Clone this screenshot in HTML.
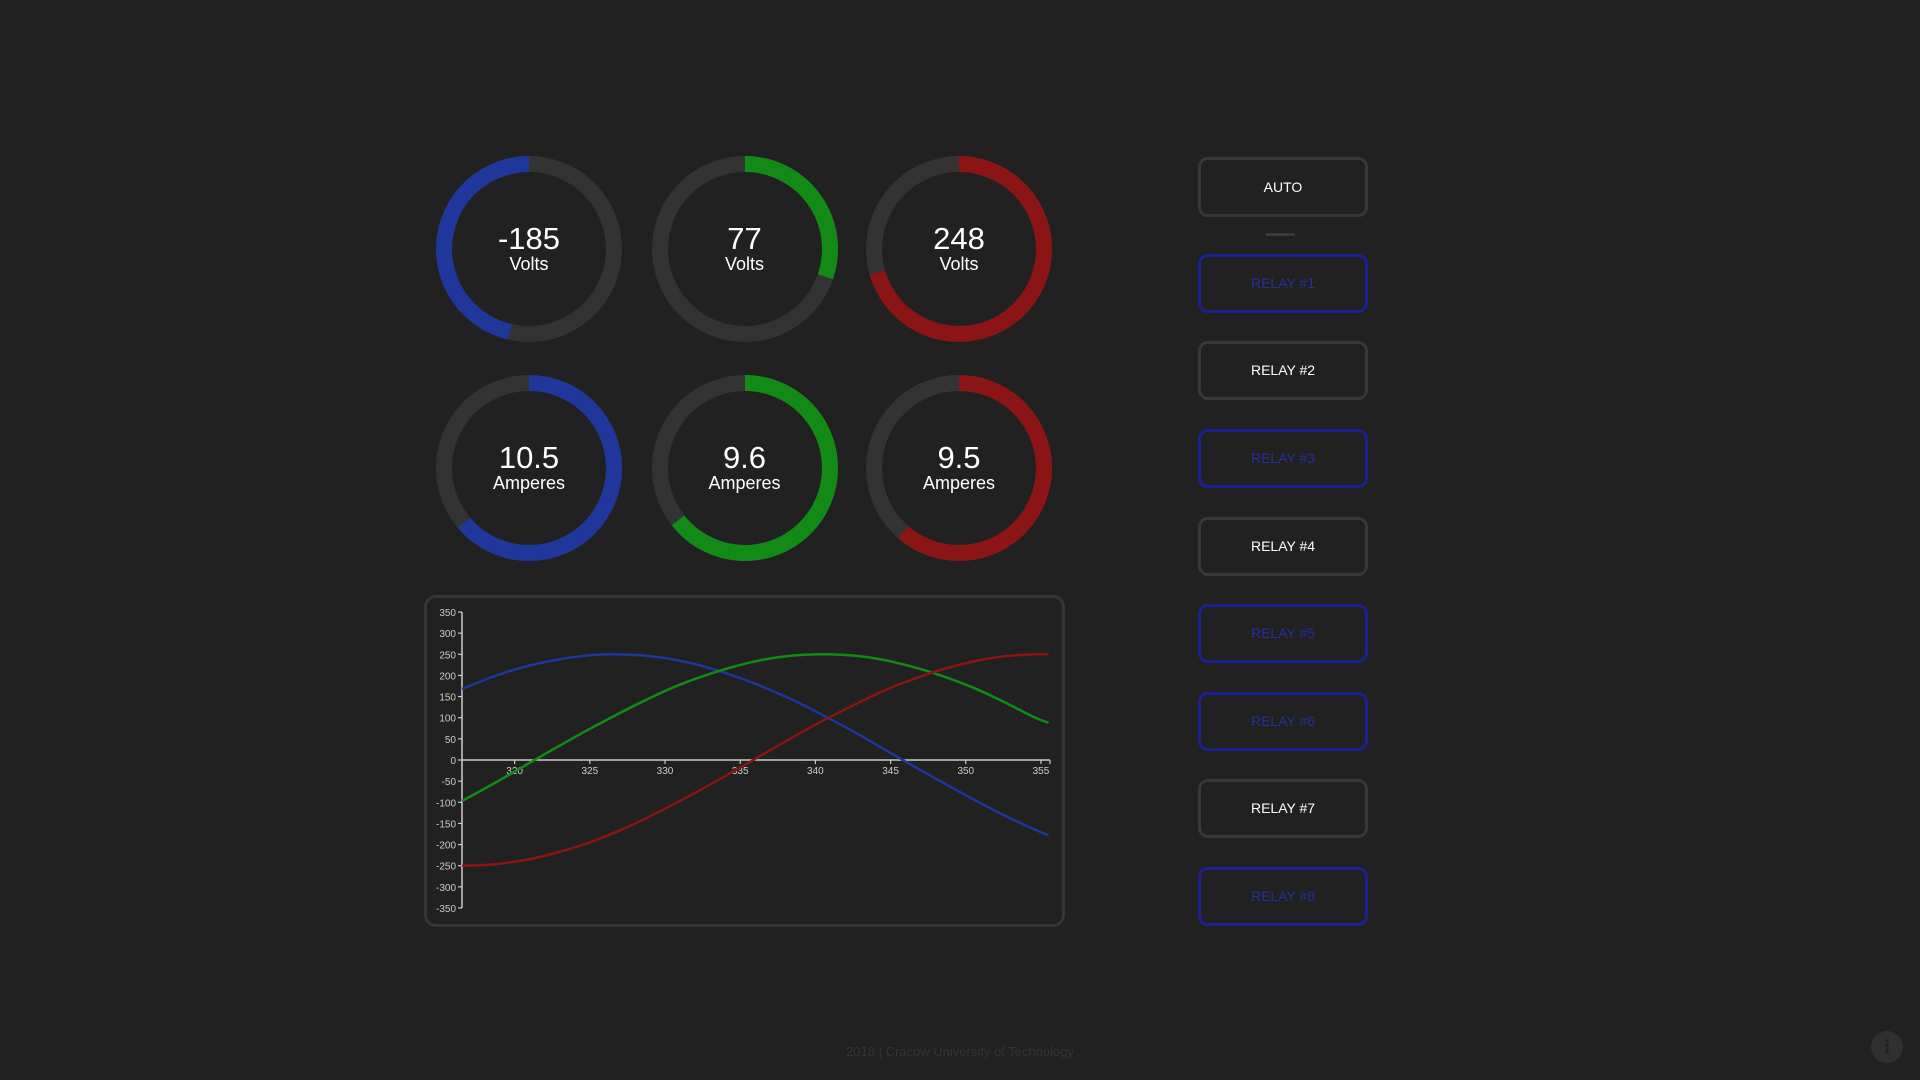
<!DOCTYPE html>
<html><head><meta charset="utf-8">
<style>
html,body{margin:0;padding:0;background:#212121;width:1920px;height:1080px;overflow:hidden;font-family:"Liberation Sans",sans-serif;color:#fff}
.gauge{position:absolute;width:190px;height:190px}
.gauge .val{position:absolute;left:0;width:190px;top:68px;text-align:center;font-size:31px;line-height:34px}
.gauge .unit{position:absolute;left:0;width:190px;top:100px;text-align:center;font-size:18px;line-height:20px}
.btn{position:absolute;left:1198px;width:164px;height:53px;border:3px solid #383838;border-radius:10px;box-sizing:content-box;text-align:center;line-height:53px;font-size:14px;color:#fff}
.btn.blue{border-color:#1c2190;color:#262f9c}
#panel{position:absolute;left:424px;top:595px;width:635px;height:326px;border:3px solid #363636;border-radius:12px}
</style></head><body>
<div id="gauges"></div>
<div id="panel"></div>
<svg id="chart" style="position:absolute;left:0;top:0" width="1920" height="1080"></svg>

<div class="btn" style="top:157px;height:54px;line-height:54px">AUTO</div>
<div style="position:absolute;left:1266px;top:233px;width:29px;height:3px;background:#3a3a3a"></div>
<div class="btn blue" style="top:254px">RELAY #1</div>
<div class="btn" style="top:341px">RELAY #2</div>
<div class="btn blue" style="top:429px">RELAY #3</div>
<div class="btn" style="top:517px">RELAY #4</div>
<div class="btn blue" style="top:604px">RELAY #5</div>
<div class="btn blue" style="top:692px">RELAY #6</div>
<div class="btn" style="top:779px">RELAY #7</div>
<div class="btn blue" style="top:867px">RELAY #8</div>

<div style="position:absolute;left:0;width:1920px;top:1044px;text-align:center;font-size:13px;color:#343434">2018 | Cracow University of Technology</div>
<div style="position:absolute;left:1871px;top:1031px;width:32px;height:32px;border-radius:50%;background:#303030;color:#222;text-align:center;font:bold 20px/32px 'Liberation Serif',serif">i</div>

<script>
// Gauges
const gaugeValues = ["-185","77","248","10.5","9.6","9.5"];
const gaugeUnits = ["Volts","Volts","Volts","Amperes","Amperes","Amperes"];
const gaugeAngles = [-167,109,254,230,232,221];
const gaugeColors = ["#1f369a","#118a16","#8b1414","#1f369a","#118a16","#8b1414"];
const gcx=[529,744.5,959], gcy=[248.5,468];
const gHost=document.getElementById('gauges');
gaugeValues.forEach((v,i)=>{
  const cx=gcx[i%3], cy=gcy[Math.floor(i/3)];
  const d=document.createElement('div');
  d.className='gauge';
  
  
  d.style.left=(cx-95)+'px'; d.style.top=(cy-95)+'px';
  const r=85, a=gaugeAngles[i]*Math.PI/180;
  const ex=95+r*Math.sin(a), ey=95-r*Math.cos(a);
  const large=Math.abs(gaugeAngles[i])>180?1:0, sweep=gaugeAngles[i]>0?1:0;
  d.innerHTML='<svg width="190" height="190" style="position:absolute;left:0;top:0"><circle cx="95" cy="95" r="85" fill="none" stroke="#333" stroke-width="16"/><path d="M95 10 A85 85 0 '+large+' '+sweep+' '+ex.toFixed(2)+' '+ey.toFixed(2)+'" fill="none" stroke="'+gaugeColors[i]+'" stroke-width="16"/></svg><div class="val">'+v+'</div><div class="unit">'+gaugeUnits[i]+'</div>';
  gHost.appendChild(d);
});

// Chart data
const xValues = [316.5,318.5,320.5,322.5,324.5,326.5,328.5,330.5,332.5,334.5,336.5,338.5,340.5,342.5,344.5,346.5,348.5,350.5,352.5,354.5,355.5];
const blueSeries = [168,196,219,235,246,250,247,238,222,200,173,142,106,68,27,-14,-54,-93,-130,-163,-178];
const greenSeries = [-97,-58,-17,24,64,102,138,171,198,220,237,247,250,247,237,220,198,171,138,102,88];
const redSeries = [-250,-247,-238,-222,-201,-174,-142,-106,-68,-28,13,54,93,129,163,191,215,233,245,250,250];
const yTicks = [350,300,250,200,150,100,50,0,-50,-100,-150,-200,-250,-300,-350];
const xTicks = [320,325,330,335,340,345,350,355];

const X0=462, X1=1050, xmin=316.5, xmax=355.6;
const sx=v=>X0+(v-xmin)/(xmax-xmin)*(X1-X0);
const sy=v=>760-v*(148/350)*(1);
const svg=document.getElementById('chart');
const NS='http://www.w3.org/2000/svg';
function mk(tag,attrs){const e=document.createElementNS(NS,tag);for(const k in attrs)e.setAttribute(k,attrs[k]);svg.appendChild(e);return e;}

let e=mk('line',{x1:X0,y1:sy(350),x2:X0,y2:sy(-350),stroke:'#ccc','stroke-width':1.5});


e=mk('line',{x1:X0,y1:sy(0),x2:X1,y2:sy(0),stroke:'#ccc','stroke-width':1.5});


yTicks.forEach(t=>{
  mk('line',{x1:X0-4,y1:sy(t),x2:X0,y2:sy(t),stroke:'#ccc','stroke-width':1.2});
  const tx=mk('text',{x:X0-6,y:sy(t)+4,'text-anchor':'end','font-size':10,fill:'#ccc','font-family':'Liberation Sans, sans-serif'});
  tx.textContent=t;
  
  
});
xTicks.forEach(t=>{
  mk('line',{x1:sx(t),y1:sy(0),x2:sx(t),y2:sy(0)+4,stroke:'#ccc','stroke-width':1.2});
  const tx=mk('text',{x:sx(t),y:sy(0)+14,'text-anchor':'middle','font-size':10,fill:'#ccc','font-family':'Liberation Sans, sans-serif'});
  tx.textContent=t;
  
  
});
mk('line',{x1:X1,y1:sy(0),x2:X1,y2:sy(0)+4,stroke:'#ccc','stroke-width':1.2});

function smooth(xs,ys){
  const p=xs.map((x,i)=>[sx(x),sy(ys[i])]);
  let d='M'+p[0][0]+' '+p[0][1];
  for(let i=0;i<p.length-1;i++){
    const p0=p[Math.max(0,i-1)],p1=p[i],p2=p[i+1],p3=p[Math.min(p.length-1,i+2)];
    const c1=[p1[0]+(p2[0]-p0[0])/6,p1[1]+(p2[1]-p0[1])/6];
    const c2=[p2[0]-(p3[0]-p1[0])/6,p2[1]-(p3[1]-p1[1])/6];
    d+=' C'+c1[0]+' '+c1[1]+' '+c2[0]+' '+c2[1]+' '+p2[0]+' '+p2[1];
  }
  return d;
}
e=mk('path',{d:smooth(xValues,blueSeries),fill:'none',stroke:'#1f369a','stroke-width':2.5});


e=mk('path',{d:smooth(xValues,greenSeries),fill:'none',stroke:'#118a16','stroke-width':2.5});


e=mk('path',{d:smooth(xValues,redSeries),fill:'none',stroke:'#8b1414','stroke-width':2.5});


</script>
</body></html>
